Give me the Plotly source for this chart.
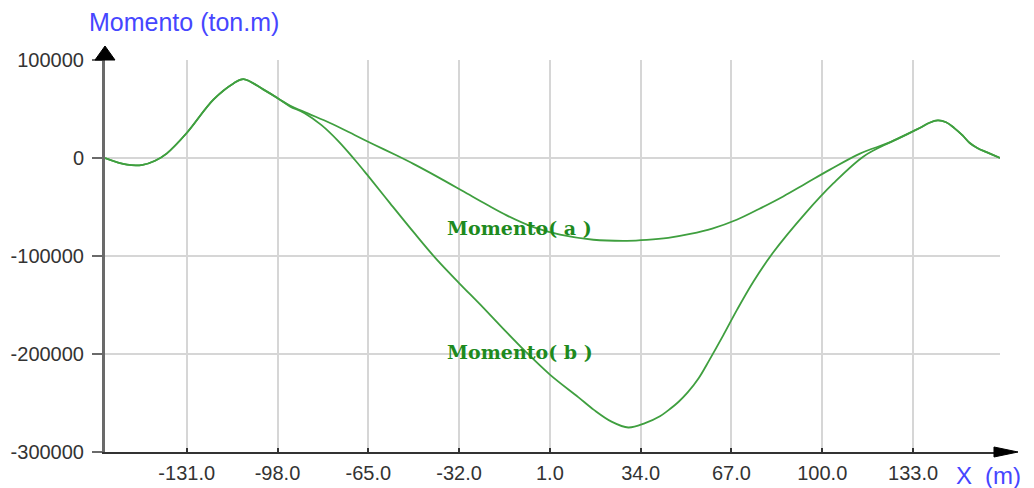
import plotly.graph_objects as go

# ---- data ----
x_common_left = [-160.7, -152.7, -147.0, -142.5, -138.3, -131.0, -121.3, -114.0, -110.4, -103.2, -97.1]
y_common_left = [0, -6800, -7000, -2800, 4500, 25500, 59500, 76000, 80500, 70000, 59500]

x_common_right = [125.0, 135.4, 139.0, 142.0, 145.0, 148.0, 151.0, 153.6, 156.5, 159.7, 164.6]
y_common_right = [16500, 30600, 36000, 38300, 36500, 30500, 23000, 15300, 10000, 6000, 0]

x_a_mid = [-93.5, -87.0, -78.9, -70.0, -63.2, -55.0, -48.6, -40.0, -30.5, -22.0, -14.7, -5.0, 4.7,
           16.8, 29.0, 36.2, 44.0, 52.0, 60.0, 68.9, 77.0, 85.8, 94.0, 102.8, 113.7]
y_a_mid = [53500, 45500, 35700, 23500, 14000, 3000, -6000, -19000, -34000, -47500, -58500, -70500, -78300,
           -83400, -84500, -83600, -81500, -77500, -72000, -63000, -52000, -39200, -26000, -11900, 4500]

x_b_mid = [-93.5, -88.0, -82.0, -76.0, -70.0, -65.0, -57.0, -48.0, -40.0, -32.0, -24.0, -16.0, -8.0, 1.0,
           11.3, 17.0, 23.4, 29.5, 35.6, 41.0, 44.0, 47.7, 51.0, 55.0, 59.0, 64.0, 69.0, 75.0, 82.0, 94.0, 104.0, 115.0]
y_b_mid = [52700, 45500, 33500, 17500, -1500, -18500, -46500, -77500, -104000, -127600, -150500, -174000, -197000, -221000,
           -244000, -257000, -269000, -275000, -270500, -263500, -257500, -249000, -239500, -225000, -206000, -181000,
           -155000, -126000, -97000, -56000, -26000, 1600]

x_a = x_common_left + x_a_mid + x_common_right
y_a = y_common_left + y_a_mid + y_common_right
x_b = x_common_left + x_b_mid + x_common_right
y_b = y_common_left + y_b_mid + y_common_right

x_ticks = [-131, -98, -65, -32, 1, 34, 67, 100, 133]
x_ticktext = ["%.1f" % v for v in x_ticks]
y_ticks = [100000, 0, -100000, -200000, -300000]
y_ticktext = [str(v) for v in y_ticks]

labels = ["Momento( a )", "Momento( b )"]
label_x = [-10, -10]
label_y = [-71200, -197800]

X_RANGE = [-160.7, 164.6]
Y_RANGE = [-300000, 100000]

# ---- layout geometry (pixels) ----
W, H = 1034, 488
L, R, T, B = 105, 34, 60, 36
PW, PH = W - L - R, H - T - B


def px(xp):
    return (xp - L) / PW


def py(yp):
    return (H - B - yp) / PH


line_color = "#3f9f3f"

fig = go.Figure()
fig.add_trace(go.Scatter(x=x_a, y=y_a, mode="lines",
                         line=dict(color=line_color, width=1.8, shape="spline", smoothing=1.0),
                         hoverinfo="skip"))
fig.add_trace(go.Scatter(x=x_b, y=y_b, mode="lines",
                         line=dict(color=line_color, width=1.8, shape="spline", smoothing=1.0),
                         hoverinfo="skip"))

for t, xv, yv in zip(labels, label_x, label_y):
    fig.add_annotation(x=xv, y=yv, text=t, showarrow=False, xanchor="center", yanchor="middle",
                       font=dict(family="DejaVu Serif", size=19, color="#1e8a1e", weight="bold"))

# axis titles
fig.add_annotation(xref="paper", yref="paper", x=px(87), y=py(22), text="Momento (ton.m)",
                   showarrow=False, xanchor="left", yanchor="middle",
                   font=dict(family="Liberation Sans", size=25, color="#4646ff"))
fig.add_annotation(xref="paper", yref="paper", x=px(964), y=py(475), text="X",
                   showarrow=False, xanchor="center", yanchor="middle",
                   font=dict(family="Liberation Sans", size=24, color="#4646ff"))
fig.add_annotation(xref="paper", yref="paper", x=px(1003), y=py(475), text="(m)",
                   showarrow=False, xanchor="center", yanchor="middle",
                   font=dict(family="Liberation Sans", size=24, color="#4646ff"))

# axis arrows
fig.add_shape(type="path", xref="paper", yref="paper",
              path="M %f %f L %f %f L %f %f Z" % (px(95), py(60), px(105), py(46), px(115), py(60)),
              fillcolor="black", line=dict(color="black", width=1))
fig.add_shape(type="path", xref="paper", yref="paper",
              path="M %f %f L %f %f L %f %f Z" % (px(994), py(447), px(1018), py(452), px(994), py(457)),
              fillcolor="black", line=dict(color="black", width=1))

fig.update_layout(
    width=W, height=H,
    margin=dict(l=L, r=R, t=T, b=B, autoexpand=False),
    paper_bgcolor="white", plot_bgcolor="white",
    showlegend=False,
    font=dict(family="Liberation Sans"),
    xaxis=dict(range=X_RANGE, tickmode="array", tickvals=x_ticks, ticktext=x_ticktext,
               automargin=False,
               showgrid=True, gridcolor="#d6d6d6", gridwidth=2, zeroline=False,
               showline=True, linecolor="#333333", linewidth=2,
               ticks="inside", ticklen=4, tickwidth=2, tickcolor="#333333",
               tickfont=dict(size=20, color="#333333"), ticklabelstandoff=2),
    yaxis=dict(range=Y_RANGE, tickmode="array", tickvals=y_ticks, ticktext=y_ticktext,
               automargin=False,
               showgrid=True, gridcolor="#d6d6d6", gridwidth=2, zeroline=False,
               showline=True, linecolor="#6a6a6a", linewidth=3,
               ticks="outside", ticklen=10, tickwidth=2, tickcolor="#6a6a6a",
               tickfont=dict(size=20, color="#333333"), ticklabelstandoff=4),
)

fig.write_html("out.html")
